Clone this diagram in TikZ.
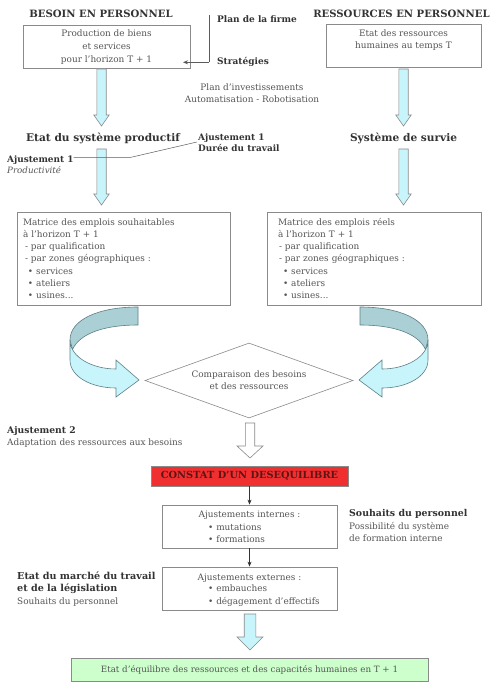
\documentclass[tikz,border=0pt]{standalone}
\usepackage{fontspec}
\setmainfont{DejaVu Serif}
\usetikzlibrary{shapes.geometric,arrows.meta}
\definecolor{txt}{HTML}{555555}
\definecolor{hd}{HTML}{333333}
\definecolor{bord}{HTML}{8A8A8A}
\definecolor{cyanf}{RGB}{200,245,252}
\definecolor{tealf}{RGB}{170,208,214}
\definecolor{ribline}{HTML}{5E7F86}
\definecolor{redf}{RGB}{240,48,48}
\definecolor{redt}{RGB}{95,20,20}
\definecolor{greenf}{RGB}{204,255,204}
\tikzset{
 body/.style={font=\fontsize{8.9}{12.2}\selectfont, text=txt, inner sep=0},
 head/.style={font=\fontsize{9.4}{12}\selectfont\bfseries, text=hd, inner sep=0},
 toph/.style={font=\fontsize{10.1}{12}\selectfont\bfseries, text=hd, inner sep=0},
 bighead/.style={font=\fontsize{10.6}{14}\selectfont\bfseries, text=hd, inner sep=0},
 box/.style={draw=bord, line width=0.8pt, fill=white, inner sep=0},
 fat/.style={draw=bord, line width=0.6pt, line join=miter},
 thinarrow/.style={draw=hd, line width=0.6pt, -{Stealth[length=5pt,width=4pt]}},
 leader/.style={draw=hd!80, line width=0.5pt},
}
\newcommand{\fatdown}[7]{%
 \draw[fat, fill=#7] (#1-#5,#2) -- (#1+#5,#2) -- (#1+#5,#3) -- (#1+#6,#3) -- (#1,#4) -- (#1-#6,#3) -- (#1-#5,#3) -- cycle;}
\newcommand{\ribbonarrow}{%
 \draw[fat, draw=ribline, fill=tealf] (138,307) .. controls (98,307) and (70,320) .. (70,340) -- (72.5,349.5) .. controls (80,333) and (105,325) .. (138,325) -- cycle;
 \draw[fat, draw=ribline, fill=cyanf] (70,340) -- (70,360) .. controls (70,377) and (92,388) .. (116,388) -- (116,397) -- (139,380) -- (116,360) -- (116,369) .. controls (92,369) and (70,357) .. (70,340) -- cycle;}
\begin{document}
\begin{tikzpicture}[x=1pt,y=-1pt]
\useasboundingbox[fill=white] (0,0) rectangle (501,695);

% headers
\node[toph, anchor=base] (hb) at (101,17.5) {BESOIN EN PERSONNEL};
\node[toph, anchor=base] (hr) at (401.5,17.5) {RESSOURCES EN PERSONNEL};
\node[head, font=\fontsize{9}{12}\selectfont\bfseries, anchor=base west] (pf) at (217,22.5) {Plan de la firme};
\node[head, font=\fontsize{9}{12}\selectfont\bfseries, anchor=base west] (st) at (217,65) {Stratégies};

% top boxes
\node[box, minimum width=167, minimum height=43] (b1) at (106.5,46.5) {};
\node[body, anchor=base] (b1a) at (106.5,36.5) {Production de biens};
\node[body, anchor=base] (b1b) at (106.5,49.5) {et services};
\node[body, anchor=base] (b1c) at (106.5,63) {pour l'horizon T + 1};
\node[box, minimum width=155, minimum height=43] (b2) at (403.5,45.5) {};
\node[body, anchor=base] (b2a) at (403.5,36.3) {Etat des ressources};
\node[body, anchor=base] (b2b) at (403.5,49) {humaines au temps T};

% firm connector
\coordinate (c1) at (209,15);
\coordinate (c2) at (209,62.3);
\coordinate (c3) at (183,62.3);
\draw[leader] (c1) -- (c2);
\draw[thinarrow, draw=hd!80] (c2) -- (c3);

\node[body, anchor=base] (pi1) at (252,90.3) {Plan d'investissements};
\node[body, anchor=base] (pi2) at (252,103) {Automatisation - Robotisation};

% fat arrows top
\fatdown{101.5}{69}{115}{126}{4.7}{7.7}{cyanf}
\fatdown{403.5}{69}{115}{126}{4.7}{7.7}{cyanf}
\node[bighead, anchor=base] (esp) at (103,142) {Etat du système productif};
\node[bighead, anchor=base] (ssv) at (403.6,142) {Système de survie};
\fatdown{101.5}{149}{194}{205}{4.7}{7.7}{cyanf}
\fatdown{403.5}{149}{194}{205}{4.7}{7.7}{cyanf}

\node[head, font=\fontsize{8.9}{12}\selectfont\bfseries, anchor=base west] (aj1r) at (198,141) {Ajustement 1};
\node[head, font=\fontsize{8.9}{12}\selectfont\bfseries, anchor=base west] (dt) at (198,152) {Durée du travail};
\node[head, font=\fontsize{8.9}{12}\selectfont\bfseries, anchor=base west] (aj1l) at (7,162.5) {Ajustement 1};
\node[body, font=\fontsize{8.7}{12}\selectfont\itshape, anchor=base west] (prd) at (7,173) {Productivité};
\coordinate (k1) at (131,157.3);
\coordinate (k2) at (197,142);
\draw[leader] (aj1l.east |- k1) -- (k1) -- (k2);

% matrix boxes
\node[box, body, minimum width=213, minimum height=93, text width=201, align=left, inner xsep=6] (m1) at (123.5,258.5)
 {Matrice des emplois souhaitables\\à l'horizon T + 1\\\hspace*{2pt}- par qualification\\\hspace*{2pt}- par zones géographiques :\\\hspace*{5pt}• services\\\hspace*{5pt}• ateliers\\\hspace*{5pt}• usines...};
\node[box, body, minimum width=214, minimum height=93, text width=192, align=left, inner xsep=11] (m2) at (374,258.5)
 {Matrice des emplois réels\\à l'horizon T + 1\\\hspace*{1pt}- par qualification\\\hspace*{1pt}- par zones géographiques :\\\hspace*{5pt}• services\\\hspace*{5pt}• ateliers\\\hspace*{5pt}• usines...};

% ribbons
\ribbonarrow
\begin{scope}[xshift=498pt, xscale=-1]
\ribbonarrow
\end{scope}

% diamond
\node[draw=bord, line width=0.6pt, diamond, shape aspect=2.77, minimum width=208, minimum height=75, inner sep=0] (cmp) at (249,380.5) {};
\node[body, anchor=base] (cmpa) at (249,377) {Comparaison des besoins};
\node[body, anchor=base] (cmpb) at (249,389) {et des ressources};

\node[head, font=\fontsize{9.2}{12}\selectfont\bfseries, anchor=base west] (aj2) at (7,433.5) {Ajustement 2};
\node[body, anchor=base west] (adp) at (7,445) {Adaptation des ressources aux besoins};

\fatdown{250}{423}{446}{458}{4.7}{13}{white}

\node[draw=bord, line width=0.8pt, fill=redf, minimum width=197, minimum height=20, inner sep=0, text=redt, font=\fontsize{9.8}{12}\selectfont\bfseries] (cst) at (249.5,476) {CONSTAT D'UN DESEQUILIBRE};

\node[box, minimum width=175, minimum height=43] (b3) at (249.5,526.5) {};
\node[body, anchor=base] (b3a) at (249.5,517) {Ajustements internes :};
\node[body, anchor=base west] (b3b) at (208,530) {• mutations};
\node[body, anchor=base west] (b3c) at (208,542) {• formations};
\draw[thinarrow] (cst.south) -- (b3.north);

\node[head, anchor=base west] (sp1) at (349,516.5) {Souhaits du personnel};
\node[body, anchor=base west] (sp2) at (349,529) {Possibilité du système};
\node[body, anchor=base west] (sp3) at (349,541) {de formation interne};

\node[box, minimum width=175, minimum height=43] (b4) at (249.5,588.5) {};
\node[body, anchor=base] (b4a) at (249.5,580) {Ajustements externes :};
\node[body, anchor=base west] (b4b) at (208,591) {• embauches};
\node[body, anchor=base west] (b4c) at (208,604) {• dégagement d'effectifs};
\draw[thinarrow] (b3.south) -- (b4.north);

\node[head, font=\fontsize{9.6}{12}\selectfont\bfseries, anchor=base west] (em1) at (17,579.5) {Etat du marché du travail};
\node[head, font=\fontsize{9.6}{12}\selectfont\bfseries, anchor=base west] (em2) at (17,591.5) {et de la législation};
\node[body, anchor=base west] (em3) at (17,604) {Souhaits du personnel};

\fatdown{250}{614}{637}{650}{5.8}{13}{cyanf}

\node[box, fill=greenf, body, font=\fontsize{8.7}{12}\selectfont, minimum width=357, minimum height=23] (eq) at (249.5,669.5) {Etat d'équilibre des ressources et des capacités humaines en T + 1};
\end{tikzpicture}
\end{document}
